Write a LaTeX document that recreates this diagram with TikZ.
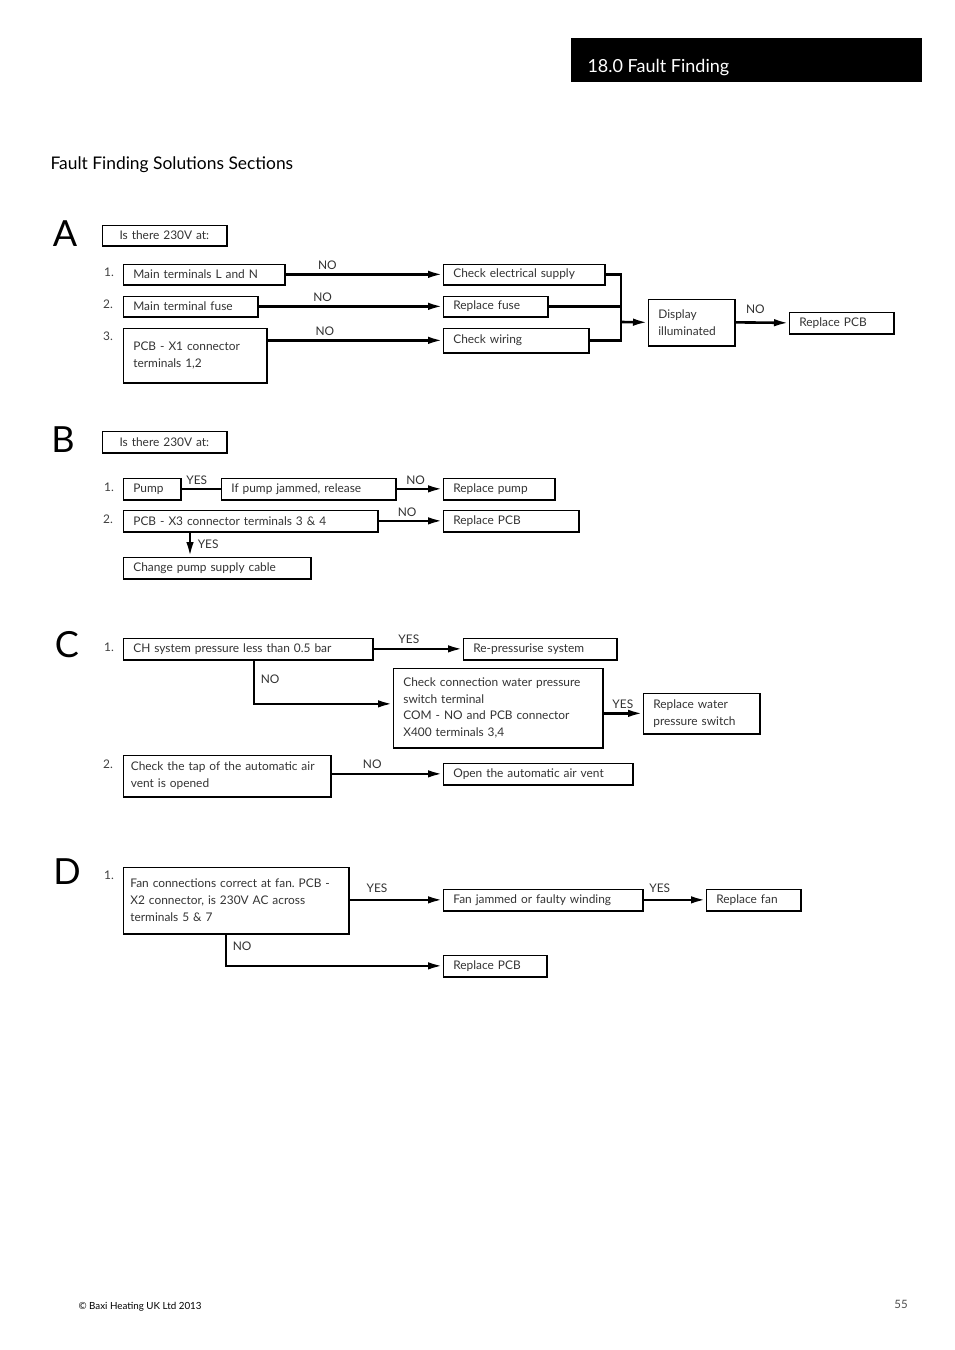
\documentclass[tikz,border=0pt]{standalone}
\usepackage{fontspec}
\setmainfont{Lato}
\usetikzlibrary{arrows.meta}
\frenchspacing
\newcommand{\boxfont}{\fontsize{11.9}{16.8}\selectfont}

\begin{document}
\begin{tikzpicture}[x=1pt,y=-1pt,
	fbox/.style={draw, line width=0.7pt, anchor=north west, inner xsep=10pt, inner ysep=0pt,
		align=left, font=\boxfont, text=black!80,
		append after command={\pgfextra{\draw[line width=1.8pt] (\tikzlastnode.north east) -- (\tikzlastnode.south east) -- (\tikzlastnode.south west);}}},
	qbox/.style={fbox, align=center},
	arr/.style={line width=2.6pt, -{Latex[length=15pt,width=7.5pt]}},
	lnk/.style={line width=2.6pt},
	lbl/.style={font=\boxfont, text=black!80, inner sep=1.5pt},
	num/.style={font=\boxfont, text=black!75},
	sec/.style={font=\fontsize{36}{36}\selectfont}]
	\useasboundingbox (0,0) rectangle (954,1350);

	% header
	\fill (571,38) rectangle (922,82);
	\node[anchor=west, text=white, font=\fontsize{18}{18}\selectfont] (hdr) at (584,68) {18.0 Fault Finding};
	\node[anchor=west, font=\fontsize{17.4}{17}\selectfont] (ttl) at (47,165) {Fault Finding Solutions Sections};

	% section A
	\node[sec] (secA) at (65,234) {A};
	\node[qbox, text width=104pt, minimum height=20pt] (qA) at (102,225) {Is there 230V at:};
	\node[num] at (109,272) {1.};
	\node[num] at (108,304) {2.};
	\node[num] at (108,336) {3.};
	\node[fbox, text width=141pt, minimum height=20pt] (mainLN) at (123,264) {Main terminals L and N};
	\node[fbox, text width=114pt, minimum height=20pt] (mainFuse) at (123,296) {Main terminal fuse};
	\node[fbox, text width=123pt, minimum height=54pt] (pcbXone) at (123,328) {PCB - X1 connector\\terminals 1,2};
	\node[fbox, text width=141pt, minimum height=20pt] (chkSupply) at (443,264) {Check electrical supply};
	\node[fbox, text width=84pt, minimum height=20pt] (repFuse) at (443,296) {Replace fuse};
	\node[fbox, text width=125pt, minimum height=24pt] (chkWiring) at (443,328) {Check wiring};
	\node[fbox, text width=66pt, minimum height=46pt] (display) at (648,299) {Display\\illuminated};
	\node[fbox, text width=84pt, minimum height=21pt] (repPcbA) at (789,312) {Replace PCB};
	\coordinate (mrg) at (621,322);

	\draw[arr] (mainLN.east) -- (chkSupply.west) node[lbl, pos=0.27, above=2pt] {NO};
	\draw[arr] (mainFuse.east) -- (repFuse.west) node[lbl, pos=0.35, above=2pt] {NO};
	\draw[arr] (chkWiring.west -| pcbXone.east) -- (chkWiring.west) node[lbl, pos=0.33, above=2pt] {NO};
	\draw[lnk] (chkSupply.east) -| (mrg);
	\draw[lnk] (repFuse.east) -- (repFuse.east -| mrg);
	\draw[lnk] (chkWiring.east) -| (mrg);
	\draw[arr] (mrg) -- (display.west);
	\draw[arr] (display.east) -- (repPcbA.west) node[lbl, pos=0.38, above=6pt] {NO};

	% section B
	\node[sec] (secB) at (63,440) {B};
	\node[qbox, text width=104pt, minimum height=21pt] (qB) at (102,431) {Is there 230V at:};
	\node[num] at (109,487) {1.};
	\node[num] at (108,519) {2.};
	\node[fbox, text width=37pt, minimum height=21pt] (pump) at (123,478) {Pump};
	\node[fbox, text width=154pt, minimum height=21pt] (jammed) at (221,478) {If pump jammed, release};
	\node[fbox, text width=91pt, minimum height=21pt] (repPump) at (443,478) {Replace pump};
	\node[fbox, text width=234pt, minimum height=21pt] (pcbXthree) at (123,510) {PCB - X3 connector terminals 3 \& 4};
	\node[fbox, text width=115pt, minimum height=21pt] (repPcbB) at (443,510) {Replace PCB};
	\node[fbox, text width=167pt, minimum height=21pt] (cable) at (123,557) {Change pump supply cable};

	\draw[lnk] (pump.east) -- (jammed.west) node[lbl, pos=0.4, above=1pt] {YES};
	\draw[arr] (jammed.east) -- (repPump.west) node[lbl, pos=0.42, above=1pt] {NO};
	\draw[arr] (pcbXthree.east) -- (repPcbB.west) node[lbl, pos=0.45, above=1pt] {NO};
	\draw[arr] ([xshift=67pt]pcbXthree.south west) -- ([xshift=67pt]cable.north west) node[lbl, midway, right=5pt] {YES};

	% section C
	\node[sec] (secC) at (67,645) {C};
	\node[num] at (109,647) {1.};
	\node[num] at (108,764) {2.};
	\node[fbox, text width=229pt, minimum height=21pt] (pressure) at (123,638) {CH system pressure less than 0.5 bar};
	\node[fbox, text width=133pt, minimum height=21pt] (repress) at (463,638) {Re-pressurise system};
	\node[fbox, text width=189pt, minimum height=79pt] (chkSwitch) at (393,668) {Check connection water pressure\\switch terminal\\COM - NO and PCB connector\\X400 terminals 3,4};
	\node[fbox, text width=96pt, minimum height=40pt] (repSwitch) at (643,693) {Replace water\\pressure switch};
	\node[fbox, text width=192pt, minimum height=41pt, inner xsep=7.5pt] (tapVent) at (123,755) {Check the tap of the automatic air\\vent is opened};
	\node[fbox, text width=169pt, minimum height=21pt] (openVent) at (443,763) {Open the automatic air vent};

	\draw[arr] (pressure.east) -- (repress.west) node[lbl, pos=0.4, above=2pt] {YES};
	\draw[arr] ([xshift=131pt]pressure.south west) |- ([yshift=4pt]chkSwitch.west) node[lbl, pos=0.22, right=4pt] {NO};
	\draw[arr] (chkSwitch.east |- repSwitch.west) -- (repSwitch.west) node[lbl, midway, above=2pt] {YES};
	\draw[arr] (tapVent.east |- openVent.west) -- (openVent.west) node[lbl, pos=0.37, above=2pt] {NO};

	% section D
	\node[sec] (secD) at (67,872) {D};
	\node[num] at (109,875) {1.};
	\node[fbox, text width=211pt, minimum height=66pt, inner xsep=7pt] (fanConn) at (123,867) {Fan connections correct at fan. PCB -\\X2 connector, is 230V AC across\\terminals 5 \& 7};
	\node[fbox, text width=179pt, minimum height=21pt] (fanJam) at (443,889) {Fan jammed or faulty winding};
	\node[fbox, text width=74pt, minimum height=21pt] (repFan) at (706,889) {Replace fan};
	\node[fbox, text width=83pt, minimum height=21pt] (repPcbD) at (443,955) {Replace PCB};

	\draw[arr] (fanConn.east |- fanJam.west) -- (fanJam.west) node[lbl, pos=0.3, above=4pt] {YES};
	\draw[arr] (fanJam.east) -- (repFan.west) node[lbl, pos=0.27, above=4pt] {YES};
	\draw[arr] ([xshift=103pt]fanConn.south west) |- (repPcbD.west) node[lbl, pos=0.2, right=4pt] {NO};

	% footer
	\node[anchor=west, font=\fontsize{9.8}{10}\selectfont] (copy) at (75,1307) {© Baxi Heating UK Ltd 2013};
	\node[font=\fontsize{11.5}{12}\selectfont, text=black!70] (page) at (901,1304) {55};
\end{tikzpicture}
\end{document}
